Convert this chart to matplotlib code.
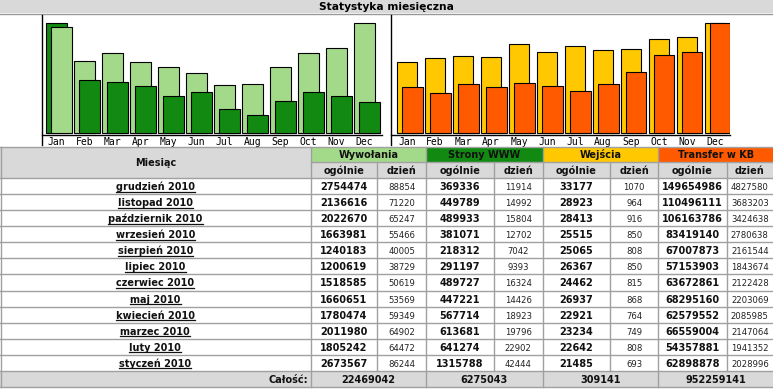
import matplotlib
matplotlib.use("Agg")
import matplotlib.pyplot as plt
import numpy as np
from matplotlib.patches import Rectangle

# ---------------- data ----------------
months = ["Jan", "Feb", "Mar", "Apr", "May", "Jun", "Jul", "Aug", "Sep", "Oct", "Nov", "Dec"]
row_labels = ["grudzień 2010", "listopad 2010", "październik 2010", "wrzesień 2010",
              "sierpień 2010", "lipiec 2010", "czerwiec 2010", "maj 2010",
              "kwiecień 2010", "marzec 2010", "luty 2010", "styczeń 2010"]
groups = ["Wywołania", "Strony WWW", "Wejścia", "Transfer w KB"]
subheads = ["ogólnie", "dzień"]

hits_total = [2754474, 2136616, 2022670, 1663981, 1240183, 1200619, 1518585, 1660651, 1780474, 2011980, 1805242, 2673567]
hits_day = [88854, 71220, 65247, 55466, 40005, 38729, 50619, 53569, 59349, 64902, 64472, 86244]
pages_total = [369336, 449789, 489933, 381071, 218312, 291197, 489727, 447221, 567714, 613681, 641274, 1315788]
pages_day = [11914, 14992, 15804, 12702, 7042, 9393, 16324, 14426, 18923, 19796, 22902, 42444]
visits_total = [33177, 28923, 28413, 25515, 25065, 26367, 24462, 26937, 22921, 23234, 22642, 21485]
visits_day = [1070, 964, 916, 850, 808, 850, 815, 868, 764, 749, 808, 693]
kb_total = [149654986, 110496111, 106163786, 83419140, 67007873, 57153903, 63672861, 68295160, 62579552, 66559004, 54357881, 62898878]
kb_day = [4827580, 3683203, 3424638, 2780638, 2161544, 1843674, 2122428, 2203069, 2085985, 2147064, 1941352, 2028996]
grand_totals = [22469042, 6275043, 309141, 952259141]

title = "Statystyka miesięczna"
total_label = "Całość:"

# ---------------- style ----------------
C_LGREEN = "#a3da8a"
C_DGREEN = "#128a12"
C_YELLOW = "#ffc800"
C_ORANGE = "#ff5a00"
C_GRAY = "#d9d9d9"
C_LINE = "#a0a0a0"
group_colors = [C_LGREEN, C_DGREEN, C_YELLOW, C_ORANGE]

W, H = 773, 391
fig = plt.figure(figsize=(W / 100, H / 100), dpi=100)
fig.patch.set_facecolor("white")

main = fig.add_axes([0, 0, 1, 1], zorder=2)
main.set_xlim(0, W)
main.set_ylim(H, 0)
main.axis("off")
main.patch.set_alpha(0)


def px_axes(x0, y0, x1, y1, z=1):
    return fig.add_axes([x0 / W, 1 - y1 / H, (x1 - x0) / W, (y1 - y0) / H], zorder=z)


# ---------------- title bar ----------------
main.add_patch(Rectangle((0, 0), W, 13, facecolor=C_GRAY, edgecolor="none"))
main.plot([0, W], [13.5, 13.5], color="#999999", lw=1)
main.text(386, 6.8, title, ha="center", va="center", fontsize=7.7, fontweight="bold",
          family="DejaVu Sans")

# ---------------- charts ----------------
SLOT = 28.0
BW = 20.5
OFF = 5.3
BASE = 133.3
FULL = 110.0


def chart(x0, x1, back_off, s1, s2, c1, c2):
    ax = px_axes(x0, 15, x1, 135)
    ax.set_xlim(0, x1 - x0)
    ax.set_ylim(-(135 - BASE) / FULL, (BASE - 15) / FULL)
    v1 = np.array(s1[::-1], dtype=float)
    v2 = np.array(s2[::-1], dtype=float)
    v1 = v1 / v1.max()
    v2 = v2 / v2.max()
    idx = np.arange(len(months))
    back = back_off + SLOT * idx
    for i in idx:
        # the taller of the two bars sits behind, to the left
        if v2[i] > v1[i]:
            (bv, bc), (fv, fc) = (v2[i], c2), (v1[i], c1)
        else:
            (bv, bc), (fv, fc) = (v1[i], c1), (v2[i], c2)
        ax.bar(back[i], bv, width=BW, align="edge", color=bc, edgecolor="black", linewidth=0.8)
        ax.bar(back[i] + OFF, fv, width=BW, align="edge", color=fc, edgecolor="black", linewidth=0.8)
    ax.set_xticks(back + 10.3)
    ax.set_xticklabels(months, family="DejaVu Sans Mono", fontsize=7)
    ax.tick_params(axis="x", length=0, pad=1.2)
    ax.set_yticks([])
    for s in ax.spines.values():
        s.set_visible(False)
    ax.patch.set_alpha(0)
    # axis lines
    main.plot([x0, x0], [15, 145], color="black", lw=1.0)
    main.plot([x0, x1], [135, 135], color="black", lw=1.0)


chart(41.7, 381.7, 4.3, hits_total, pages_total, C_LGREEN, C_DGREEN)
chart(391.0, 730.0, 5.7, visits_total, kb_total, C_YELLOW, C_ORANGE)

# ---------------- table ----------------
col_edges = [0, 310.7, 377.3, 426.0, 494.0, 542.7, 610.0, 658.3, 726.7, 773]
Y_H1, Y_H2, Y_D = 146.5, 162.0, 178.0
RH = 16.08
Y_T = Y_D + RH * 12
Y_END = Y_T + 16

# backgrounds
main.add_patch(Rectangle((0, Y_H1), col_edges[1], Y_D - Y_H1, facecolor=C_GRAY, edgecolor="none"))
for g in range(4):
    xa, xb = col_edges[1 + 2 * g], col_edges[3 + 2 * g]
    main.add_patch(Rectangle((xa, Y_H1), xb - xa, Y_H2 - Y_H1, facecolor=group_colors[g], edgecolor="none"))
main.add_patch(Rectangle((col_edges[1], Y_H2), W - col_edges[1], Y_D - Y_H2, facecolor=C_GRAY, edgecolor="none"))
main.add_patch(Rectangle((0, Y_T), W, Y_END - Y_T, facecolor=C_GRAY, edgecolor="none"))

# grid lines
lw = 1.0
main.plot([0, W], [Y_H1, Y_H1], color=C_LINE, lw=lw)
main.plot([col_edges[1], W], [Y_H2, Y_H2], color=C_LINE, lw=lw)
for r in range(13):
    y = Y_D + RH * r
    main.plot([0, W], [y, y], color=C_LINE, lw=lw)
main.plot([0, W], [Y_END, Y_END], color=C_LINE, lw=lw)
main.plot([0.5, 0.5], [Y_H1, Y_END], color=C_LINE, lw=lw)
for k, x in enumerate(col_edges[1:-1], start=1):
    if k % 2 == 1:  # group boundaries span all rows
        main.plot([x, x], [Y_H1, Y_END], color=C_LINE, lw=lw)
    else:  # inner column boundaries only below group header, not in total row
        main.plot([x, x], [Y_H2, Y_T], color=C_LINE, lw=lw)

BOLD = dict(fontsize=7, fontweight="bold", family="DejaVu Sans", color="#111111")
REG = dict(fontsize=6.1, family="DejaVu Sans", color="#222222")

main.text(col_edges[1] / 2, (Y_H1 + Y_D) / 2 + 0.5, "Miesiąc", ha="center", va="center", **BOLD)
for g in range(4):
    xa, xb = col_edges[1 + 2 * g], col_edges[3 + 2 * g]
    main.text((xa + xb) / 2, (Y_H1 + Y_H2) / 2 + 0.5, groups[g], ha="center", va="center", **BOLD)
    for s in range(2):
        ca, cb = col_edges[1 + 2 * g + s], col_edges[2 + 2 * g + s]
        main.text((ca + cb) / 2, (Y_H2 + Y_D) / 2 + 0.5, subheads[s], ha="center", va="center", **BOLD)

cols = [(hits_total, hits_day), (pages_total, pages_day), (visits_total, visits_day), (kb_total, kb_day)]
month_texts = []
for r in range(12):
    yb = Y_D + RH * r + 12.0
    t = main.text(col_edges[1] / 2, yb, row_labels[r], ha="center", va="baseline", **BOLD)
    month_texts.append((t, yb))
    for g, (tot, day) in enumerate(cols):
        c0 = 1 + 2 * g
        main.text((col_edges[c0] + col_edges[c0 + 1]) / 2, yb, str(tot[r]), ha="center", va="baseline", **BOLD)
        main.text((col_edges[c0 + 1] + col_edges[c0 + 2]) / 2, yb, str(day[r]), ha="center", va="baseline", **REG)

yb = Y_T + 12.0
main.text(col_edges[1] - 3, yb, total_label, ha="right", va="baseline", **BOLD)
for g in range(4):
    xa, xb = col_edges[1 + 2 * g], col_edges[3 + 2 * g]
    main.text((xa + xb) / 2, yb, str(grand_totals[g]), ha="center", va="baseline", **BOLD)

# underline month links
fig.canvas.draw()
rend = fig.canvas.get_renderer()
for t, yb in month_texts:
    bb = t.get_window_extent(rend)
    main.plot([bb.x0, bb.x1], [yb + 1.6, yb + 1.6], color="#111111", lw=0.9)

fig.savefig("out.png", dpi=100)
